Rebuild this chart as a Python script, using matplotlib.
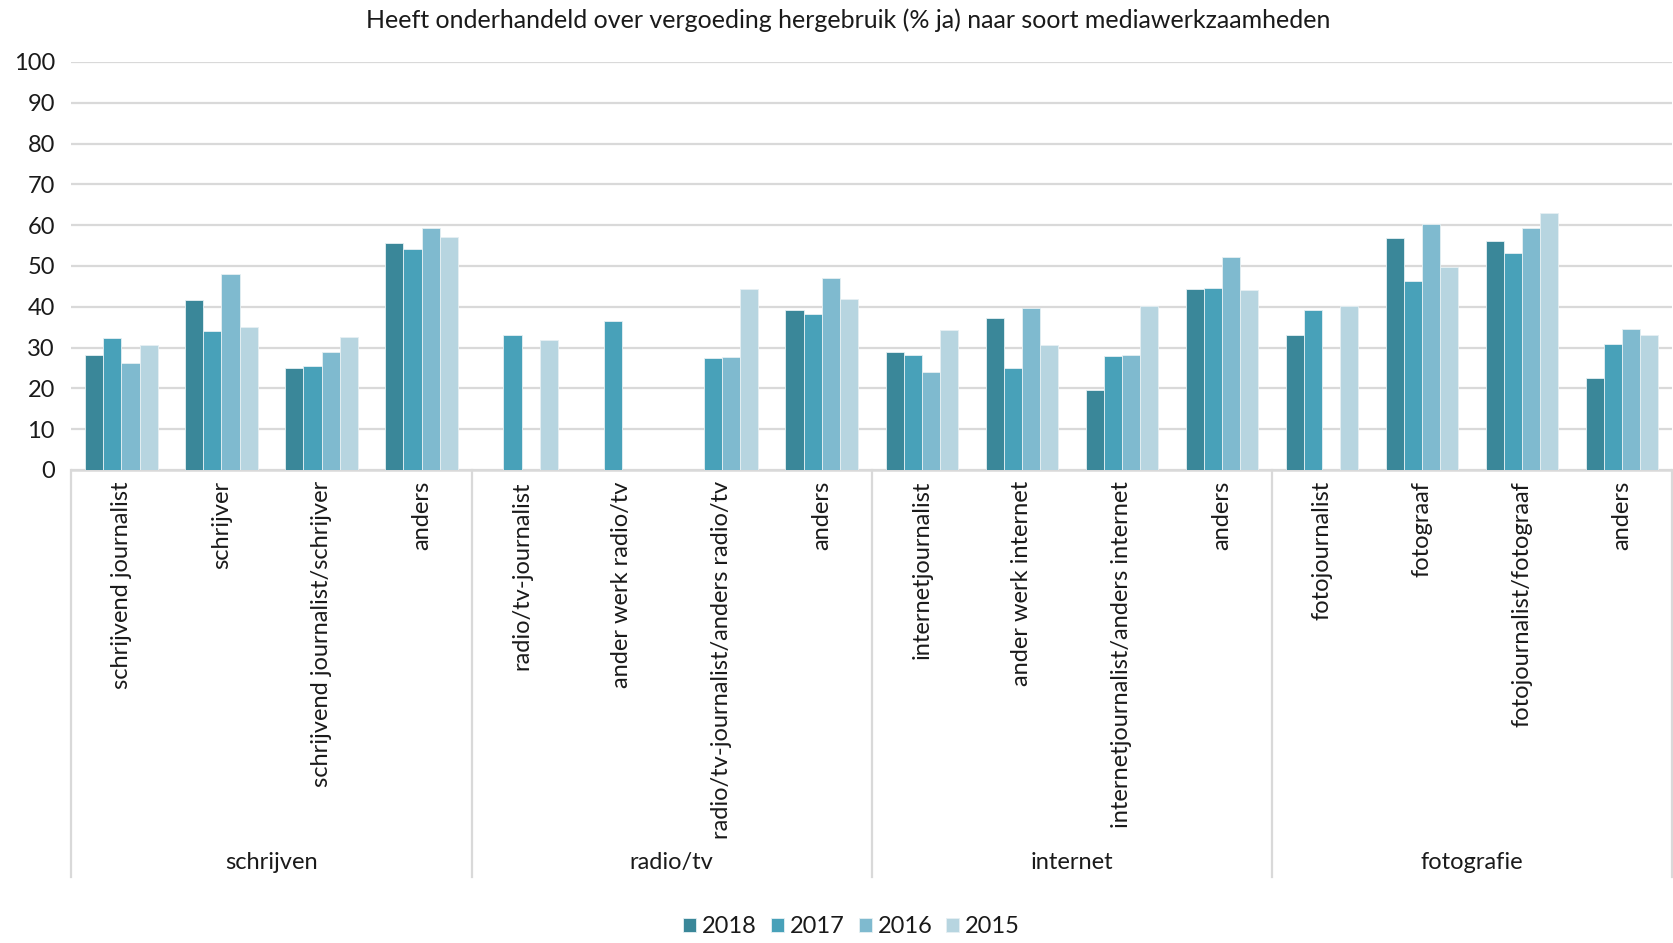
import matplotlib.pyplot as plt
import numpy as np

nan = np.nan

groups = ["schrijven", "radio/tv", "internet", "fotografie"]
categories = [
    "schrijvend journalist", "schrijver", "schrijvend journalist/schrijver", "anders",
    "radio/tv-journalist", "ander werk radio/tv", "radio/tv-journalist/anders radio/tv", "anders",
    "internetjournalist", "ander werk internet", "internetjournalist/anders internet", "anders",
    "fotojournalist", "fotograaf", "fotojournalist/fotograaf", "anders",
]
years = ["2018", "2017", "2016", "2015"]

v2018 = [28.1, 41.6, 25.0, 55.7, nan, nan, nan, 39.1, 28.8, 37.2, 19.7, 44.4, 33.2, 56.9, 56.0, 22.5]
v2017 = [32.4, 34.1, 25.6, 54.2, 33.2, 36.5, 27.4, 38.2, 28.2, 25.1, 28.0, 44.6, 39.3, 46.2, 53.3, 31.0]
v2016 = [26.1, 48.1, 29.0, 59.4, nan, nan, 27.6, 47.0, 24.1, 39.6, 28.3, 52.2, nan, 60.3, 59.3, 34.6]
v2015 = [30.7, 35.0, 32.5, 57.2, 31.9, nan, 44.3, 41.8, 34.2, 30.6, 40.1, 44.0, 40.1, 49.8, 63.0, 33.1]

colors = ["#3A8799", "#48A1B9", "#7FBACF", "#B7D5E0"]

plt.rcParams["font.family"] = ["Lato", "DejaVu Sans"]
text_color = "#1a1a1a"
grid_color = "#D9D9D9"
fs = 17

fig = plt.figure(figsize=(16.73, 9.43), dpi=100)
ax = fig.add_axes([0.0427, 0.5016, 0.9567, 0.4327])

x = np.arange(len(categories))
width = 0.181
series = [v2018, v2017, v2016, v2015]
for i, (vals, year, col) in enumerate(zip(series, years, colors)):
    ax.bar(x + (i - 1.5) * width, vals, width, color=col, label=year,
           edgecolor="#E6F0F3", linewidth=0.6, zorder=3)

ax.set_xlim(-0.5, len(categories) - 0.5)
ax.set_ylim(0, 100)
ax.set_yticks(range(0, 101, 10))
ax.yaxis.grid(True, color=grid_color, linewidth=1.6, zorder=0)
ax.tick_params(axis="y", length=0, labelsize=fs, labelcolor=text_color, pad=12)
ax.set_xticks(x)
ax.set_xticklabels(categories, rotation=90, fontsize=fs, color=text_color)
ax.tick_params(axis="x", length=0, pad=8)
for s in ["top", "right", "left"]:
    ax.spines[s].set_visible(False)
ax.spines["bottom"].set_color(grid_color)
ax.spines["bottom"].set_linewidth(1.8)

# group separators and group labels below the axis
trans = ax.get_xaxis_transform()
for k in range(len(groups) + 1):
    xs = k * 4 - 0.5
    ax.plot([xs, xs], [0, -0.998], transform=trans, color=grid_color,
            linewidth=1.6, clip_on=False)
for k, g in enumerate(groups):
    ax.text(k * 4 + 1.5, -0.961, g, transform=trans, ha="center", va="center",
            fontsize=fs, color=text_color)

fig.text(0.507, 0.979, "Heeft onderhandeld over vergoeding hergebruik (% ja) naar soort mediawerkzaamheden",
         ha="center", va="center", fontsize=18, color=text_color)

fig.legend(loc="center", bbox_to_anchor=(0.509, 0.017), ncol=4, frameon=False,
           fontsize=fs, handlelength=0.55, handleheight=0.55, handletextpad=0.25,
           columnspacing=0.6, labelcolor=text_color)

fig.savefig("out.png", dpi=100)
